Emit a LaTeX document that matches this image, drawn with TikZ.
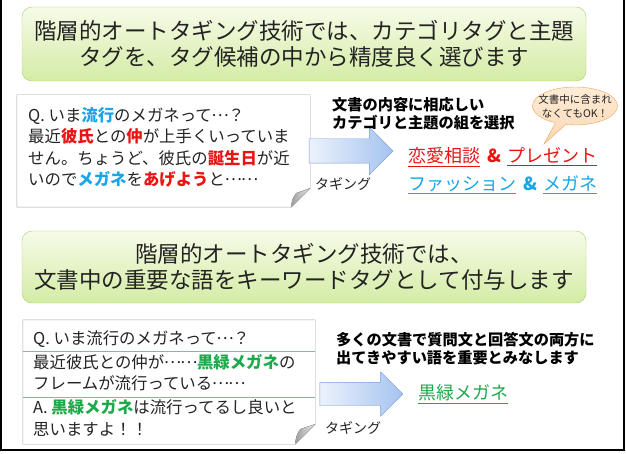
\documentclass[tikz,border=0pt]{standalone}
\usepackage{fontspec}
\setmainfont{Noto Sans CJK JP}
\usetikzlibrary{positioning, shapes.arrows, shapes.callouts}

\definecolor{leafline}{RGB}{165,208,100}
\definecolor{leaftop}{RGB}{246,251,232}
\definecolor{leafbot}{RGB}{212,236,165}
\definecolor{memoline}{RGB}{165,165,165}
\definecolor{rowline}{RGB}{140,172,215}
\definecolor{arrowline}{RGB}{115,155,220}
\definecolor{arrowleft}{RGB}{236,242,252}
\definecolor{arrowright}{RGB}{165,195,240}
\definecolor{okline}{RGB}{240,165,90}
\definecolor{oktop}{RGB}{253,236,215}
\definecolor{okbot}{RGB}{250,215,180}
\definecolor{tagred}{RGB}{235,20,20}
\definecolor{tagblue}{RGB}{25,165,230}
\definecolor{taggreen}{RGB}{30,170,75}
\definecolor{inkgray}{RGB}{35,35,35}
\newcommand\middots{\makebox[1em]{\raisebox{0.3em}{…}}}

\begin{document}
\begin{tikzpicture}[x=1pt, y=-1pt,
    headline/.style={rectangle, rounded corners=10pt, draw=leafline, top color=leaftop,
        bottom color=leafbot, align=center, minimum width=564pt, text=inkgray,
        font=\fontsize{22.5}{26}\selectfont},
    memo/.style={rectangle, draw=none, inner sep=0pt},
    memotext/.style={anchor=west, align=left, inner sep=0pt, text=inkgray,
        font=\fontsize{16.4}{21.5}\selectfont},
    fold/.style={draw=memoline, left color=black!38, right color=black!8},
    bigarrow/.style={single arrow, draw=arrowline, left color=arrowleft, right color=arrowright,
        inner xsep=0pt, inner ysep=12pt, minimum width=47pt, minimum height=84pt,
        single arrow head extend=11.5pt},
    caption/.style={anchor=west, align=left, inner sep=0pt, text=black,
        font=\fontsize{15.2}{18}\selectfont\bfseries},
    tagline/.style={anchor=west, inner sep=0pt, font=\fontsize{18}{20}\selectfont},
    taglabel/.style={inner sep=0pt, text=inkgray, font=\fontsize{14}{16}\selectfont},
    hot/.style={text=tagred}]
\useasboundingbox (0,0) rectangle (626,454);
\draw[line width=1.6pt] (1,0) -- (1,450) -- (624,450) -- (624,0);

% upper half: category and topic tags
\node[headline, minimum height=74pt] (head1) at (304,44)
    {階層的オートタギング技術では、カテゴリタグと主題\\タグを、タグ候補の中から精度良く選びます};

\node[memo, minimum width=293pt, minimum height=112pt] (memo1) at (163.5,151) {};
\draw[memoline] (memo1.north west) -- (memo1.north east) -- ([yshift=19pt]memo1.south east)
    -- ([xshift=-19pt]memo1.south east) -- (memo1.south west) -- cycle;
\filldraw[fold] ([xshift=-19pt]memo1.south east) .. controls +(1,-8) .. +(5,-14)
    -- ([yshift=19pt]memo1.south east) -- cycle;
\node[memotext] (memo1txt) at (28,147.5)
    {Q. いま{\bfseries\color{tagblue}流行}のメガネって\middots？\\
     最近{\bfseries\color{tagred}彼氏}との{\bfseries\color{tagred}仲}が上手くいっていま\\
     せん。ちょうど、彼氏の{\bfseries\color{tagred}誕生日}が近\\
     いので{\bfseries\color{tagblue}メガネ}を{\bfseries\color{tagred}あげよう}と\middots\middots};

\node[bigarrow] (arrow1) at (345,151) {};
\node[taglabel] (tagging1) at (343,184) {タギング};

\node[caption] (reason1) at (332,114) {文書の内容に相応しい\\カテゴリと主題の組を選択};

\node[ellipse callout, draw=okline, top color=oktop, bottom color=okbot, inner sep=0pt,
    minimum width=85pt, minimum height=38pt, callout absolute pointer={(544,144)}]
    (okballoon) at (575,106) {};
\node[align=center, inner sep=0pt, text=inkgray, font=\fontsize{10.5}{14}\selectfont]
    (oktext) at (okballoon.center) {文書中に含まれ\\なくてもOK！};

\node[tagline, text=tagred] (pair1) at (408,157)
    {\underline{恋愛相談}\hspace{7pt}\textbf{\&}\hspace{6pt}\underline{プレゼント}};
\node[tagline, text=tagblue] (pair2) at (408,185)
    {\underline{ファッション}\hspace{7pt}\textbf{\&}\hspace{6pt}\underline{メガネ}};

% lower half: keyword tags
\node[headline, minimum height=72pt] (head2) at (304,267)
    {階層的オートタギング技術では、\\文書中の重要な語をキーワードタグとして付与します};

\node[memo, minimum width=292pt, minimum height=124pt] (memo2) at (169,382) {};
\draw[memoline] (memo2.north west) -- (memo2.north east) -- ([yshift=20pt]memo2.south east)
    -- ([xshift=-20pt]memo2.south east) -- (memo2.south west) -- cycle;
\filldraw[fold] ([xshift=-20pt]memo2.south east) .. controls +(1,-8) .. +(5,-15)
    -- ([yshift=20pt]memo2.south east) -- cycle;
\draw[rowline] (memo2.west |- 0,351) -- (memo2.east |- 0,351);
\draw[rowline] (memo2.west |- 0,397) -- (memo2.east |- 0,397);
\node[memotext] (rowq) at (33,339) {Q. いま流行のメガネって\middots？};
\node[memotext] (rowa1) at (33,372.5)
    {最近彼氏との仲が\middots\middots{\bfseries\color{taggreen}黒緑メガネ}の\\フレームが流行っている\middots\middots};
\node[memotext] (rowa2) at (33,418)
    {A. {\bfseries\color{taggreen}黒緑メガネ}は流行ってるし良いと\\思いますよ！！};

\node[bigarrow, inner ysep=11.5pt, minimum width=44pt, minimum height=83pt,
    single arrow head extend=10.5pt] (arrow2) at (355.5,394) {};
\node[taglabel] (tagging2) at (353,428) {タギング};

\node[caption] (reason2) at (336,349) {多くの文書で質問文と回答文の両方に\\出てきやすい語を重要とみなします};

\node[tagline, text=taggreen] (keyword) at (418,394) {\underline{黒緑メガネ}};
\end{tikzpicture}
\end{document}
